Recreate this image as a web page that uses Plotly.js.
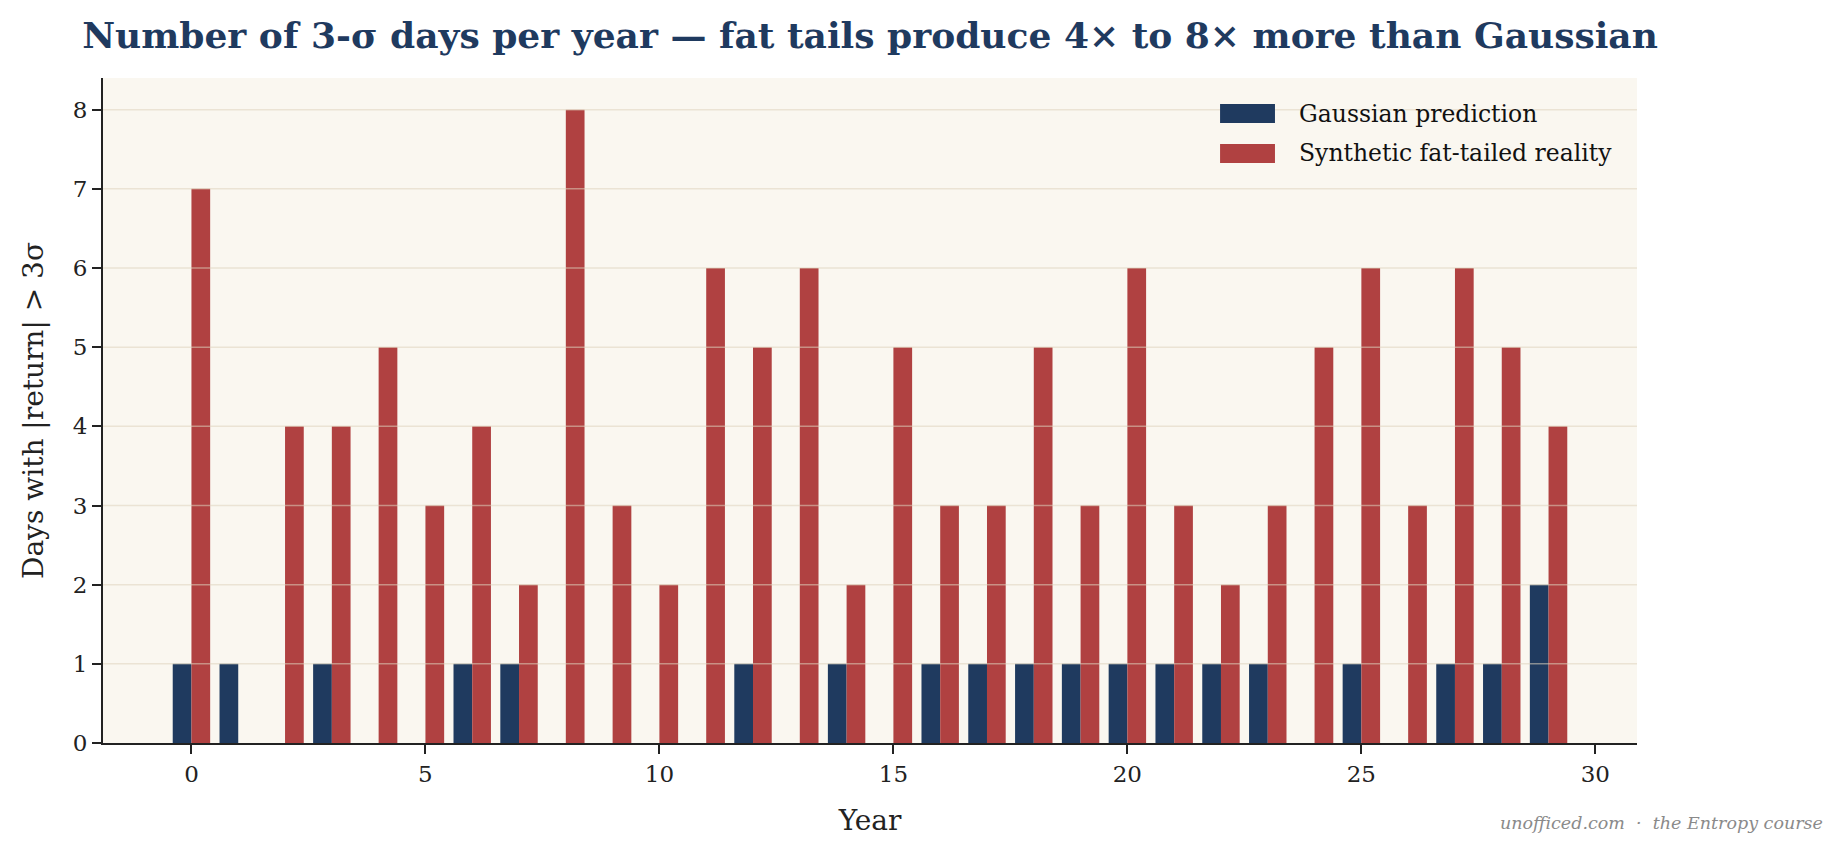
<!DOCTYPE html>
<html>
<head>
<meta charset="utf-8">
<script src="https://cdn.plot.ly/plotly-3.0.1.min.js"></script>
<style>
  html, body { margin: 0; padding: 0; background: #ffffff; }
  #chart { width: 1843px; height: 856px; }
</style>
</head>
<body>
<div id="chart"></div>
<script>
// Simulated years and the count of |return| > 3σ days in each
const years = [0, 1, 2, 3, 4, 5, 6, 7, 8, 9, 10, 11, 12, 13, 14, 15, 16, 17, 18, 19, 20, 21, 22, 23, 24, 25, 26, 27, 28, 29];
const gaussianDays = [1, 1, 0, 1, 0, 0, 1, 1, 0, 0, 0, 0, 1, 0, 1, 0, 1, 1, 1, 1, 1, 1, 1, 1, 0, 1, 0, 1, 1, 2];
const fatTailDays  = [7, 0, 4, 4, 5, 3, 4, 2, 8, 3, 2, 6, 5, 6, 2, 5, 3, 3, 5, 3, 6, 3, 2, 3, 5, 6, 3, 6, 5, 4];

const seriesNames = ['Gaussian prediction', 'Synthetic fat-tailed reality'];
const xTicks = [0, 5, 10, 15, 20, 25, 30];
const yTicks = [0, 1, 2, 3, 4, 5, 6, 7, 8];

const NAVY = '#1f3a5f';
const RED = '#b04141';
const FONT = 'DejaVu Serif, Liberation Serif, serif';
const INK = '#222222';

const traces = [
  {
    type: 'bar', name: seriesNames[0], x: years, y: gaussianDays,
    width: 0.4, offset: -0.4,
    marker: { color: NAVY, line: { width: 0 } },
    hoverinfo: 'x+y+name'
  },
  {
    type: 'bar', name: seriesNames[1], x: years, y: fatTailDays,
    width: 0.4, offset: 0,
    marker: { color: RED, line: { width: 0 } },
    hoverinfo: 'x+y+name'
  }
];

// Translucent horizontal grid drawn over the bars, one line per y tick
const gridShapes = yTicks.filter(v => v > 0).map(v => ({
  type: 'line', xref: 'paper', yref: 'y',
  x0: 0, x1: 1, y0: v, y1: v,
  line: { color: 'rgba(222,212,190,0.55)', width: 1.5 },
  layer: 'above'
}));

// Legend swatches drawn as wide rectangles in the top-right corner of the plot
const legendRows = [
  { name: seriesNames[0], color: NAVY, y: 0.9466 },
  { name: seriesNames[1], color: RED, y: 0.8865 }
];
const swatchH = 0.0143;
const legendShapes = legendRows.map(r => ({
  type: 'rect', xref: 'paper', yref: 'paper',
  x0: 0.7282, x1: 0.7640, y0: r.y - swatchH, y1: r.y + swatchH,
  fillcolor: r.color, line: { width: 0 }, layer: 'above'
}));
const annotations = legendRows.map(r => ({
  xref: 'paper', yref: 'paper', x: 0.7784, y: r.y,
  xanchor: 'left', yanchor: 'middle', showarrow: false,
  text: r.name, font: { family: FONT, size: 23.5, color: '#111111' }
}));
annotations.push({
  xref: 'paper', yref: 'paper', x: 1.1226, y: -0.1203,
  xanchor: 'right', yanchor: 'middle', showarrow: false,
  text: 'unofficed.com  ·  the Entropy course',
  font: { family: FONT, size: 17.5, color: '#8a8a8a', style: 'italic' }
});

const layout = {
  width: 1843, height: 856,
  paper_bgcolor: '#ffffff',
  plot_bgcolor: '#faf7f0',
  margin: { l: 103, r: 206, t: 78, b: 113, pad: 0 },
  barmode: 'overlay',
  showlegend: false,
  font: { family: FONT, color: INK },
  title: {
    text: '<b>Number of 3-σ days per year — fat tails produce 4× to 8× more than Gaussian</b>',
    font: { family: FONT, size: 36, color: NAVY },
    x: 0.5, xref: 'paper', xanchor: 'center',
    y: 0.959, yref: 'container', yanchor: 'middle'
  },
  xaxis: {
    range: [-1.89, 30.89],
    tickmode: 'array', tickvals: xTicks,
    ticks: 'outside', ticklen: 9, tickwidth: 2, tickcolor: INK,
    showline: true, linecolor: INK, linewidth: 2,
    showgrid: false, zeroline: false,
    tickfont: { family: FONT, size: 23, color: INK },
    title: { text: 'Year', font: { family: FONT, size: 28, color: INK }, standoff: 25 }
  },
  yaxis: {
    range: [0, 8.4],
    tickmode: 'array', tickvals: yTicks,
    ticks: 'outside', ticklen: 9, tickwidth: 2, tickcolor: INK,
    showline: true, linecolor: INK, linewidth: 2,
    showgrid: false, zeroline: false,
    tickfont: { family: FONT, size: 23, color: INK },
    title: { text: 'Days with |return| > 3σ', font: { family: FONT, size: 28, color: INK }, standoff: 21 }
  },
  shapes: gridShapes.concat(legendShapes),
  annotations: annotations
};

Plotly.newPlot('chart', traces, layout, { displayModeBar: false, responsive: false });
</script>
</body>
</html>
